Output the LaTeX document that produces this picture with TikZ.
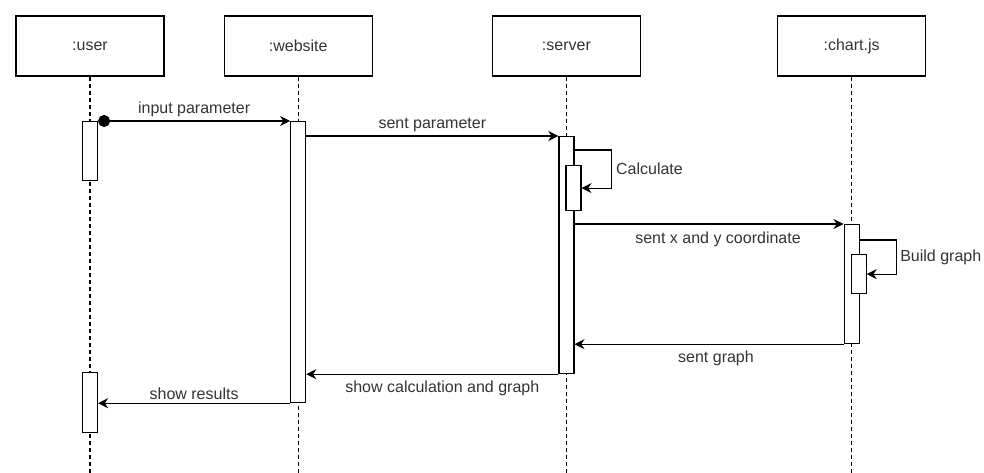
\documentclass[tikz,border=0pt]{standalone}
\usepackage{fontspec}
\setmainfont{Liberation Sans}
\usetikzlibrary{arrows.meta, positioning}

\begin{document}
\begin{tikzpicture}[x=1pt,y=-1pt,font=\fontsize{16}{19}\selectfont]
\tikzstyle{every node}=[text=black!80]
\tikzstyle{obj}=[draw, line width=1.2pt, minimum width=148pt, minimum height=60pt, inner sep=0pt]
\tikzstyle{act}=[draw, line width=1.2pt, fill=white, minimum width=15pt, inner sep=0pt, anchor=north]
\tikzstyle{life}=[line width=1.2pt, dash pattern=on 4pt off 3pt]
\tikzstyle{msg}=[line width=1.2pt, -{Stealth[length=10pt, width=10pt]}]

\useasboundingbox (0,0) rectangle (984,473);

\node[obj] (user) at (90,46) {:user};
\node[obj, right=59pt of user] (website) {:website};
\node[obj, right=119pt of website] (server) {:server};
\node[obj, right=136pt of server] (chartjs) {:chart.js};

% lifelines
\draw[life] (user.south) -- (user.south |- 0,473);
\draw[life] (website.south) -- (website.south |- 0,473);
\draw[life] (server.south) -- (server.south |- 0,473);
\draw[life] (chartjs.south) -- (chartjs.south |- 0,473);

% activations
\node[act, minimum height=59pt] (userA) at (user.south |- 0,121) {};
\node[act, minimum height=60pt] (userB) at (user.south |- 0,372) {};
\node[act, minimum height=281pt] (websiteA) at (website.south |- 0,121) {};
\node[act, minimum height=237pt] (serverA) at (server.south |- 0,136) {};
\node[act, minimum height=45pt] (serverB) at ([xshift=7pt]server.south |- 0,165) {};
\node[act, minimum height=119pt] (chartA) at (chartjs.south |- 0,224) {};
\node[act, minimum height=39pt] (chartB) at ([xshift=7pt]chartjs.south |- 0,254) {};

\draw[msg, {Circle[length=12pt]}-{Stealth[length=10pt, width=10pt]}] (userA.north east)
  -- node[above] {input parameter} (websiteA.north west);
\draw[msg] (websiteA.east |- serverA.north) -- node[above] {sent parameter} (serverA.north west);
\draw[msg] ([yshift=-14pt]serverA.north east) -- ++(37,0)
  |- node[right, pos=0.25, inner sep=4pt] {Calculate} (serverB.east);
\draw[msg] (serverA.east |- chartA.north) -- node[below, xshift=9pt, inner sep=7pt] {sent x and y coordinate} (chartA.north west);
\draw[msg] ([yshift=-16pt]chartA.north east) -- ++(37,0)
  |- node[right, pos=0.25, inner sep=3pt] {Build graph} (chartB.east);
\draw[msg] (chartA.south west) -- node[below, xshift=7pt, inner sep=6pt] {sent graph} (serverA.east |- chartA.south);
\draw[msg] (serverA.south west) -- node[below, xshift=10pt, inner sep=6pt] {show calculation and graph} (websiteA.east |- serverA.south);
\draw[msg] (websiteA.south west) -- node[above] {show results} (userB.east |- websiteA.south);
\end{tikzpicture}
\end{document}
